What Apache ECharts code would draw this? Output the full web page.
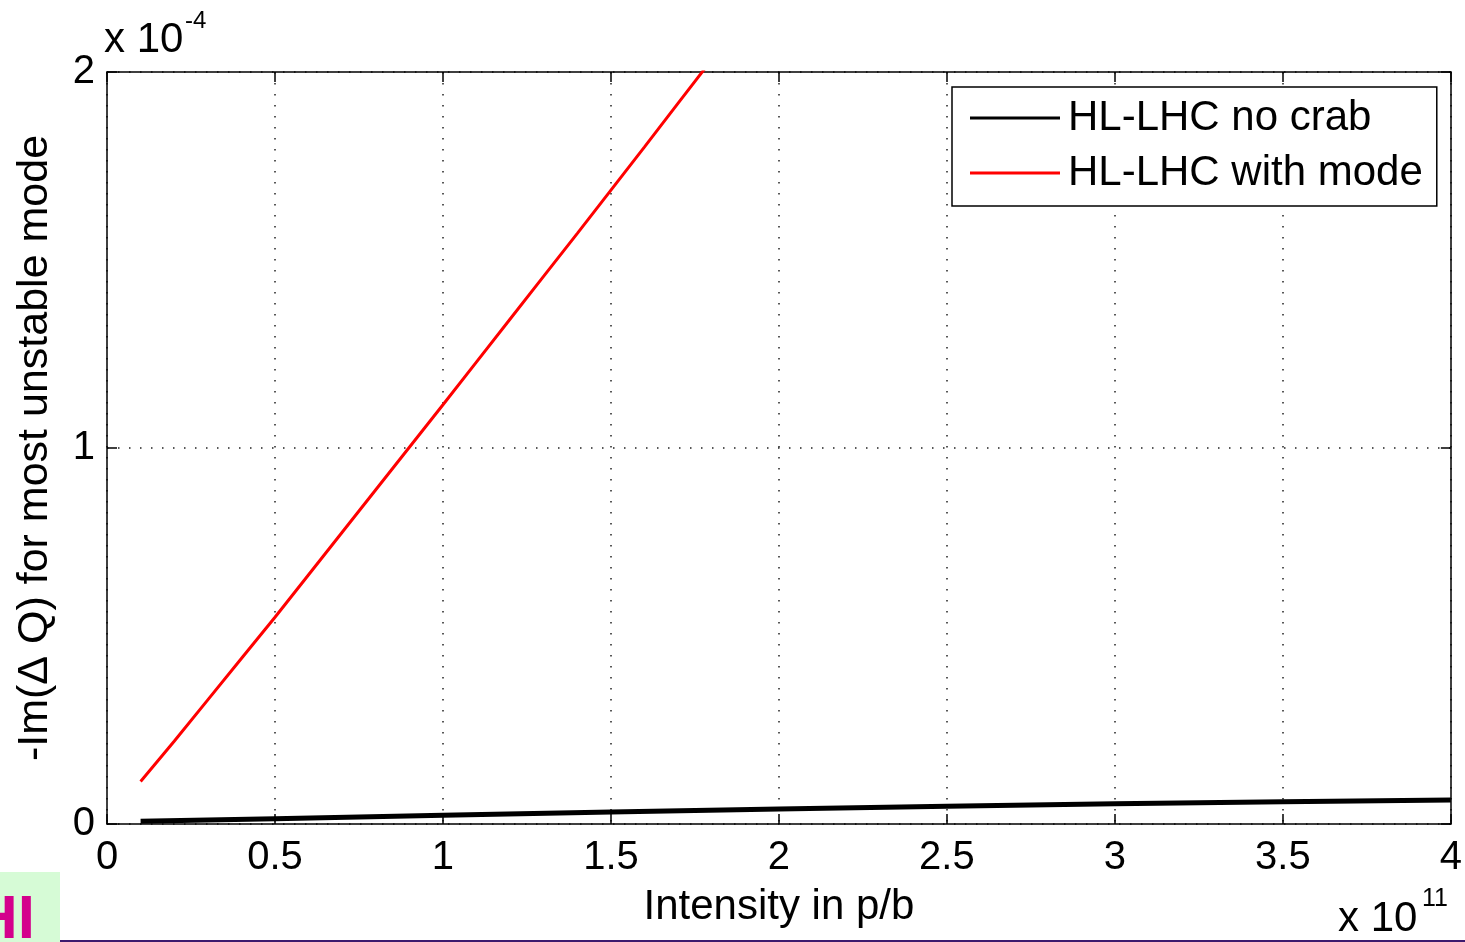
<!DOCTYPE html>
<html>
<head>
<meta charset="utf-8">
<script src="https://cdn.jsdelivr.net/npm/echarts@6/dist/echarts.min.js"></script>
<style>
  html, body { margin: 0; padding: 0; background: #ffffff; }
  #chart { width: 1465px; height: 942px; }
</style>
</head>
<body>
<div id="chart"></div>
<script>
// Intensity in units of 1e11 p/b, growth -Im(dQ) in units of 1e-4
const intensityWithMode = [0.1, 0.2, 0.3, 0.4, 0.5, 0.6, 0.7, 0.8, 0.9, 1.0, 1.1, 1.2, 1.3, 1.4, 1.5, 1.6, 1.7, 1.8];
const growthWithMode    = [0.113, 0.22, 0.33, 0.44, 0.55, 0.663, 0.776, 0.889, 1.002, 1.115, 1.229, 1.343, 1.457, 1.571, 1.686, 1.801, 1.917, 2.033];

const intensityNoCrab = [0.1, 0.5, 1.0, 1.5, 2.0, 2.5, 3.0, 3.5, 4.0];
const growthNoCrab    = [0.007, 0.014, 0.023, 0.032, 0.040, 0.047, 0.054, 0.059, 0.064];

const seriesNames = ['HL-LHC no crab', 'HL-LHC with mode'];
const xTickValues = [0, 0.5, 1, 1.5, 2, 2.5, 3, 3.5, 4];
const yTickValues = [0, 1, 2];

const FONT = '"Liberation Sans", Arial, Helvetica, sans-serif';

function pairs(xs, ys) {
  return xs.map((x, i) => [x, ys[i]]);
}

const chart = echarts.init(document.getElementById('chart'), null, { renderer: 'canvas' });

const dotted = { color: '#222', width: 1.5, type: [1.5, 9.5] };
const frameLine = { show: true, onZero: false, lineStyle: { color: '#000', width: 1.5 } };
const innerTick = { show: true, inside: true, length: 10, lineStyle: { color: '#000', width: 1.5 } };

chart.setOption({
  animation: false,
  backgroundColor: '#ffffff',
  textStyle: { fontFamily: FONT },
  grid: { left: 107, right: 14, top: 72, bottom: 118, containLabel: false },
  legend: {
    orient: 'vertical',
    left: 952,
    top: 87,
    data: seriesNames,
    icon: 'rect',
    itemWidth: 90,
    itemHeight: 3,
    itemGap: 13,
    padding: [10, 14, 12, 18],
    backgroundColor: '#ffffff',
    borderColor: '#000',
    borderWidth: 1.5,
    textStyle: { fontFamily: FONT, fontSize: 42, color: '#000', lineHeight: 42, padding: [0, 0, 0, 3] }
  },
  xAxis: [
    {
      type: 'value',
      position: 'bottom',
      min: 0, max: 4, interval: 0.5,
      name: 'Intensity in p/b',
      nameLocation: 'middle',
      nameGap: 62,
      nameTextStyle: { fontFamily: FONT, fontSize: 42, color: '#000' },
      axisLine: frameLine,
      axisTick: innerTick,
      axisLabel: {
        fontFamily: FONT, fontSize: 40, color: '#000', margin: 14,
        formatter: v => xTickValues.includes(v) ? String(v) : ''
      },
      splitLine: { show: true, lineStyle: dotted }
    },
    {
      type: 'value',
      position: 'top',
      min: 0, max: 4, interval: 0.5,
      axisLine: frameLine,
      axisTick: innerTick,
      axisLabel: { show: false },
      splitLine: { show: false }
    }
  ],
  yAxis: [
    {
      type: 'value',
      position: 'left',
      min: 0, max: 2, interval: 1,
      name: '-Im(\u0394 Q) for most unstable mode',
      nameLocation: 'middle',
      nameGap: 50,
      nameTextStyle: { fontFamily: FONT, fontSize: 43, color: '#000' },
      axisLine: frameLine,
      axisTick: innerTick,
      axisLabel: {
        fontFamily: FONT, fontSize: 40, color: '#000', margin: 12,
        formatter: v => yTickValues.includes(v) ? String(v) : ''
      },
      splitLine: { show: true, lineStyle: dotted }
    },
    {
      type: 'value',
      position: 'right',
      min: 0, max: 2, interval: 1,
      axisLine: frameLine,
      axisTick: innerTick,
      axisLabel: { show: false },
      splitLine: { show: false }
    }
  ],
  series: [
    {
      name: seriesNames[0],
      type: 'line',
      xAxisIndex: 0, yAxisIndex: 0,
      data: pairs(intensityNoCrab, growthNoCrab),
      showSymbol: false,
      symbol: 'none',
      clip: true,
      itemStyle: { color: '#000' },
      lineStyle: { color: '#000', width: 5 },
      z: 3
    },
    {
      name: seriesNames[1],
      type: 'line',
      xAxisIndex: 0, yAxisIndex: 0,
      data: pairs(intensityWithMode, growthWithMode),
      showSymbol: false,
      symbol: 'none',
      clip: true,
      itemStyle: { color: '#ff0000' },
      lineStyle: { color: '#ff0000', width: 3 },
      z: 3
    }
  ],
  graphic: [
    // exponent for the y axis
    { type: 'text', left: 104, top: 19, silent: true,
      style: { text: 'x 10', font: '42px ' + FONT, fill: '#000' } },
    { type: 'text', left: 185, top: 9, silent: true,
      style: { text: '-4', font: '24px ' + FONT, fill: '#000' } },
    // exponent for the x axis
    { type: 'text', left: 1338, top: 898, silent: true,
      style: { text: 'x 10', font: '42px ' + FONT, fill: '#000' } },
    { type: 'text', left: 1422, top: 887, silent: true,
      style: { text: '11', font: '25px ' + FONT, fill: '#000' } },
    // slide footer pieces
    { type: 'rect', shape: { x: 0, y: 872, width: 60, height: 70 }, silent: true,
      style: { fill: '#d6fbd6' }, z: 0 },
    { type: 'text', x: 35, y: 890, silent: true,
      style: { text: 'HI', font: 'bold 62px ' + FONT, fill: '#d4008c', align: 'right', verticalAlign: 'top' } },
    { type: 'rect', shape: { x: 60, y: 940, width: 1405, height: 2 }, silent: true,
      style: { fill: '#3c1a6e' } }
  ]
});
</script>
</body>
</html>
